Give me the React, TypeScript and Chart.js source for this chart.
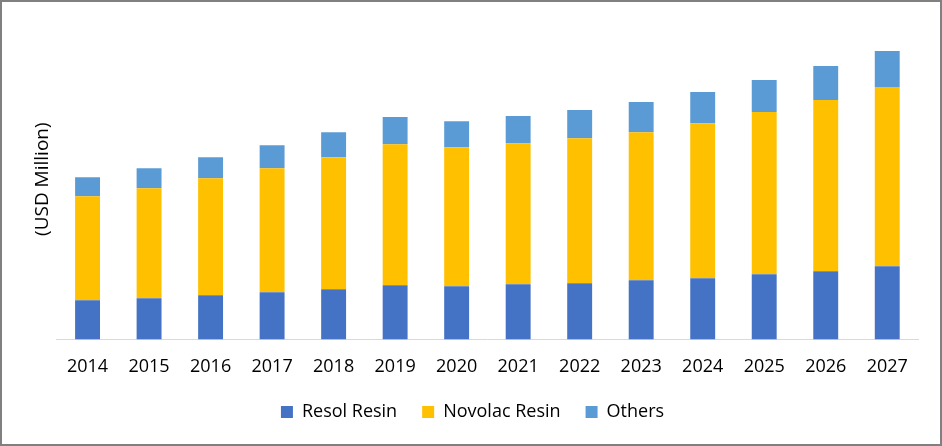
import React, { useEffect, useRef } from "react";
import { Chart, registerables } from "chart.js";

Chart.register(...registerables);

const years = ["2014", "2015", "2016", "2017", "2018", "2019", "2020", "2021", "2022", "2023", "2024", "2025", "2026", "2027"];
const resolResin = [39, 41, 44, 47, 50, 54, 53, 55, 56, 59, 61, 65, 68, 73];
const novolacResin = [104, 110, 117, 124, 132, 141, 139, 141, 145, 148, 155, 162, 171, 179];
const others = [19, 20, 21, 23, 25, 27, 26, 27, 28, 30, 31, 32, 34, 36];

export default function App() {
  const ref = useRef<HTMLCanvasElement | null>(null);

  useEffect(() => {
    if (!ref.current) return;
    const font = { family: "'Open Sans', sans-serif", size: 18 };
    const chart = new Chart(ref.current, {
      type: "bar",
      data: {
        labels: years,
        datasets: [
          { label: "Resol Resin", data: resolResin, backgroundColor: "#4472C4" },
          { label: "Novolac Resin", data: novolacResin, backgroundColor: "#FFC000" },
          { label: "Others", data: others, backgroundColor: "#5B9BD5" },
        ],
      },
      options: {
        animation: false,
        responsive: true,
        maintainAspectRatio: false,
        layout: { padding: { top: 17, left: 25, right: 22, bottom: 13 } },
        datasets: { bar: { categoryPercentage: 1, barPercentage: 0.405 } },
        plugins: {
          legend: {
            position: "bottom",
            labels: { boxWidth: 12, boxHeight: 12, padding: 25, color: "#000", font },
          },
          tooltip: { enabled: false },
        },
        scales: {
          x: {
            stacked: true,
            grid: { display: false, drawTicks: true, tickLength: 17 },
            border: { display: true, color: "#d9d9d9", width: 1 },
            ticks: { color: "#000", font, padding: 0 },
          },
          y: {
            stacked: true,
            min: 0,
            max: 320,
            grid: { display: false, drawTicks: false },
            border: { display: false },
            ticks: { display: false },
            title: { display: true, text: "(USD Million)", color: "#000", font: { family: "'Open Sans', sans-serif", size: 19 }, padding: { top: 4, bottom: 3 } },
          },
        },
      },
    });
    return () => chart.destroy();
  }, []);

  return (
    <div
      style={{
        position: "absolute",
        left: 0,
        top: 0,
        width: 942,
        height: 446,
        boxSizing: "border-box",
        border: "2px solid #808080",
        background: "#fff",
      }}
    >
      <div style={{ position: "relative", width: "100%", height: "100%" }}>
        <canvas ref={ref} />
      </div>
    </div>
  );
}
